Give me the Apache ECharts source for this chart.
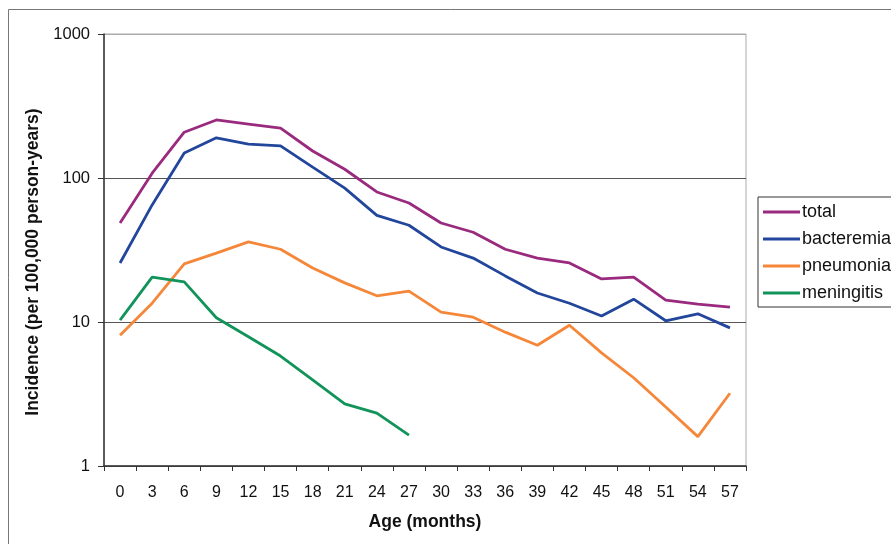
<!DOCTYPE html>
<html>
<head>
<meta charset="utf-8">
<script src="https://cdn.jsdelivr.net/npm/echarts@6/dist/echarts.min.js"></script>
<style>
html,body{margin:0;padding:0;background:#fff;}
#c{width:891px;height:544px;}
</style>
</head>
<body>
<div id="c"></div>
<script>
var ages = ['0','3','6','9','12','15','18','21','24','27','30','33','36','39','42','45','48','51','54','57'];
var total = [48.7,108,208,253,237,222,154,115,80,67,48.7,42,32,27.8,25.7,19.9,20.5,14.2,13.3,12.7];
var bacteremia = [25.7,65,149,190,172,167,119,85,55,47,33.2,27.8,20.9,15.9,13.5,11.0,14.4,10.2,11.4,9.1];
var pneumonia = [8.1,13.5,25.3,30.1,36,32,23.7,18.7,15.2,16.4,11.7,10.8,8.5,6.9,9.5,6.1,4.1,2.57,1.6,3.2];
var meningitis = [10.3,20.5,19.0,10.7,7.9,5.8,3.96,2.7,2.33,1.64,null,null,null,null,null,null,null,null,null,null];
var yTicks = [1,10,100,1000];

var font = '"Liberation Sans", Arial, sans-serif';
var chart = echarts.init(document.getElementById('c'), null, {renderer:'canvas'});
function s(name, data, color){
  return {name:name, type:'line', data:data, symbol:'none', connectNulls:false,
    lineStyle:{color:color, width:2.8}, itemStyle:{color:color}};
}
chart.setOption({
  animation:false,
  backgroundColor:'#fff',
  graphic:[
    {type:'rect', shape:{x:8.5, y:9.5, width:900, height:600},
      style:{fill:'none', stroke:'#777', lineWidth:1}, silent:true, z:-1}
  ],
  grid:{left:104, top:34, width:642, height:432, show:true, borderColor:'#aaa', borderWidth:1},
  legend:{
    orient:'vertical', left:758, top:197, itemWidth:37, itemHeight:3, icon:'rect',
    itemGap:9, padding:[6,20,5,5], borderColor:'#333', borderWidth:1,
    textStyle:{fontFamily:font, fontSize:18, lineHeight:18, color:'#111', padding:[0,0,0,-3]},
    data:['total','bacteremia','pneumonia','meningitis']
  },
  xAxis:{
    type:'category', data:ages, boundaryGap:true,
    name:'Age (months)', nameLocation:'middle', nameGap:56,
    nameTextStyle:{fontFamily:font, fontSize:17.5, fontWeight:'bold', color:'#111', verticalAlign:'middle'},
    axisLine:{lineStyle:{color:'#333', width:1.5}},
    axisTick:{show:true, length:5, lineStyle:{color:'#333'}},
    axisLabel:{fontFamily:font, fontSize:16, color:'#111', margin:19}
  },
  yAxis:{
    type:'log', logBase:10, min:1, max:1000,
    name:'Incidence (per 100,000 person-years)', nameLocation:'middle', nameGap:59,
    nameTextStyle:{fontFamily:font, fontSize:17.5, fontWeight:'bold', color:'#111', padding:[0,24,0,0]},
    axisLine:{show:true, lineStyle:{color:'#333', width:1.5}},
    axisTick:{show:true, length:6, lineStyle:{color:'#333'}},
    axisLabel:{fontFamily:font, fontSize:16.5, color:'#111', margin:14,
      formatter:function(v){ return yTicks.indexOf(Math.round(v))>=0 ? String(Math.round(v)) : ''; }},
    splitLine:{show:true, lineStyle:{color:['#555','#555','#555','#aaa'], width:1.2}}
  },
  series:[
    s('total', total, '#9a2a7e'),
    s('bacteremia', bacteremia, '#22469b'),
    s('pneumonia', pneumonia, '#f5873a'),
    s('meningitis', meningitis, '#11935a')
  ]
});
</script>
</body>
</html>
